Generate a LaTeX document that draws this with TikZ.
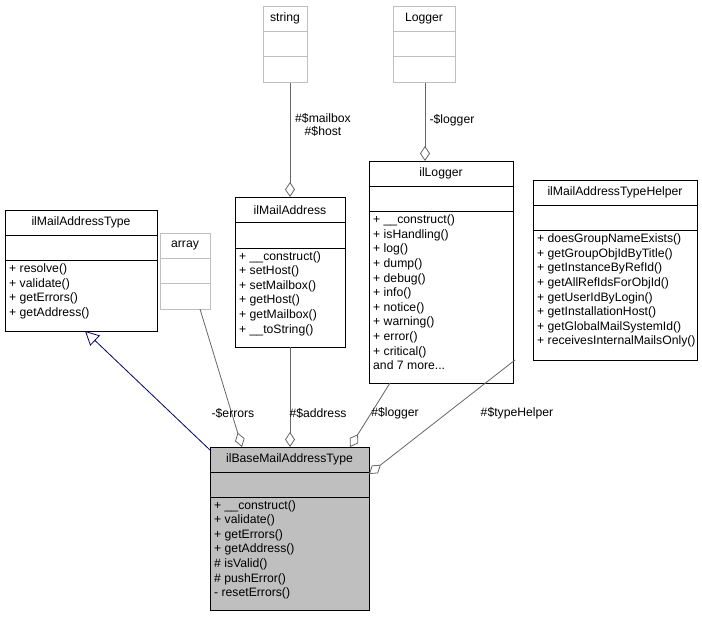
\documentclass[tikz,border=0pt]{standalone}
\usepackage{fontspec}
\setmainfont{Liberation Sans}
\usetikzlibrary{arrows.meta}
\newcommand{\umlbox}[9]{%
  \node[#8, minimum width=#4-#2, minimum height=#5-#3, anchor=north west] (#1) at (#2,#3) {};
  \draw[#8] (#2,#3+#9) -- (#4,#3+#9) (#2,#3+2*#9) -- (#4,#3+2*#9);
  \node[txt, anchor=center] (#1-t) at ({(#2+#4)/2},#3+#9/2) {#6};
  \node[txt, anchor=north west, align=left] (#1-m) at (#2+4,#3+2*#9+3) {#7};
}
\begin{document}
\begin{tikzpicture}[x=1pt,y=-1pt,
  box/.style={draw=black, line width=0.8pt, inner sep=0, fill=white},
  gbox/.style={draw=black!25, line width=0.8pt, inner sep=0, fill=white},
  bbox/.style={draw=black, line width=0.8pt, inner sep=0, fill=black!25},
  txt/.style={font=\fontsize{12.2}{14.6}\selectfont, inner sep=0},
  lbl/.style={font=\fontsize{12.2}{13.5}\selectfont, inner sep=1pt, align=center},
  agg/.style={draw=black!60, line width=0.8pt, -{Diamond[open, length=15pt, width=10pt, fill=white]}},
  inh/.style={draw=blue!40!black, line width=0.8pt, {Triangle[open, length=14pt, width=14pt, fill=white]}-}]
\useasboundingbox (0,0) rectangle (702,617);
\umlbox{mtype}{5}{210}{157}{331}{ilMailAddressType}{+ resolve()\\+ validate()\\+ getErrors()\\+ getAddress()}{box}{25.3}
\umlbox{string}{263}{6}{307}{82}{string}{}{gbox}{25.3}
\umlbox{logger}{393}{6}{455}{82}{Logger}{}{gbox}{25.3}
\umlbox{array}{160}{233}{210}{309}{array}{}{gbox}{25.3}
\umlbox{mail}{235}{197}{345}{347}{ilMailAddress}{+ \_\_construct()\\+ setHost()\\+ setMailbox()\\+ getHost()\\+ getMailbox()\\+ \_\_toString()}{box}{25.5}
\umlbox{illogger}{369}{161}{513}{383}{ilLogger}{+ \_\_construct()\\+ isHandling()\\+ log()\\+ dump()\\+ debug()\\+ info()\\+ notice()\\+ warning()\\+ error()\\+ critical()\\and 7 more...}{box}{25.3}
\umlbox{helper}{533}{180}{697}{360}{ilMailAddressTypeHelper}{+ doesGroupNameExists()\\+ getGroupObjIdByTitle()\\+ getInstanceByRefId()\\+ getAllRefIdsForObjId()\\+ getUserIdByLogin()\\+ getInstallationHost()\\+ getGlobalMailSystemId()\\+ receivesInternalMailsOnly()}{box}{25.3}
\umlbox{base}{210}{447}{369}{610}{ilBaseMailAddressType}{+ \_\_construct()\\+ validate()\\+ getErrors()\\+ getAddress()\\\# isValid()\\\# pushError()\\- resetErrors()}{bbox}{25}

\draw[agg] (string.south -| 290,0) -- (290,197);
\node[lbl] (l1) at (323,125) {\#\$mailbox\\\#\$host};
\draw[agg] (logger.south -| 425,0) -- (425,161);
\node[lbl] (l2) at (452,120) {-\$logger};
\draw[inh] (85,331) -- (211,451);
\draw[agg] (200,309) -- (242,447);
\node[lbl] (l3) at (233,413) {-\$errors};
\draw[agg] (290,347) -- (290,447);
\node[lbl] (l4) at (318,413) {\#\$address};
\draw[agg] (390,383) -- (350,447);
\node[lbl] (l5) at (395,413) {\#\$logger};
\draw[agg] (515,360) -- (369,474);
\node[lbl] (l6) at (517,413) {\#\$typeHelper};
\end{tikzpicture}
\end{document}
